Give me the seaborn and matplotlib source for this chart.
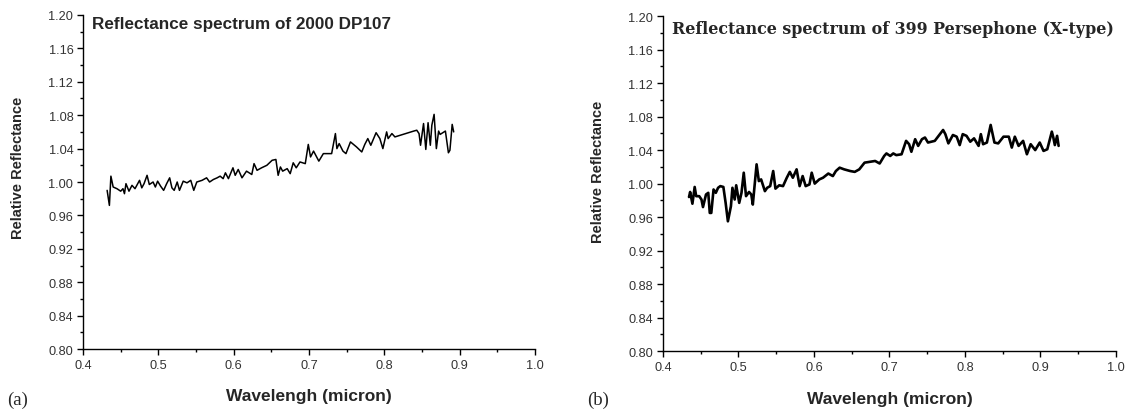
import numpy as np
import pandas as pd
import matplotlib.pyplot as plt
from matplotlib.ticker import MultipleLocator
import seaborn as sns

# 2000 DP107 spectrum
dp107_wl = [0.432, 0.435, 0.437, 0.440, 0.445, 0.450, 0.453, 0.455, 0.457, 0.461,
            0.465, 0.469, 0.475, 0.478, 0.481, 0.485, 0.488, 0.493, 0.496, 0.499,
            0.503, 0.507, 0.511, 0.515, 0.518, 0.521, 0.525, 0.528, 0.533, 0.538,
            0.543, 0.547, 0.551, 0.558, 0.564, 0.568, 0.573, 0.578, 0.582, 0.586,
            0.589, 0.593, 0.599, 0.602, 0.606, 0.611, 0.617, 0.624, 0.627, 0.631,
            0.637, 0.644, 0.651, 0.656, 0.659, 0.662, 0.665, 0.671, 0.675, 0.679,
            0.683, 0.688, 0.695, 0.699, 0.702, 0.706, 0.713, 0.719, 0.730, 0.735,
            0.737, 0.740, 0.745, 0.749, 0.755, 0.763, 0.770, 0.774, 0.778, 0.782,
            0.789, 0.794, 0.798, 0.803, 0.805, 0.810, 0.814, 0.839, 0.843, 0.846,
            0.848, 0.852, 0.855, 0.858, 0.861, 0.863, 0.866, 0.869, 0.872, 0.874,
            0.881, 0.885, 0.887, 0.890, 0.892]
dp107_refl = [0.990, 0.972, 1.007, 0.994, 0.992, 0.989, 0.992, 0.986, 0.998, 0.989,
              0.996, 0.992, 1.002, 0.993, 0.998, 1.008, 0.997, 1.000, 0.994, 1.001,
              0.995, 0.990, 0.998, 1.005, 0.993, 0.990, 1.000, 0.990, 1.001, 0.999,
              1.002, 0.990, 1.000, 1.002, 1.005, 1.000, 1.003, 1.005, 1.007, 1.004,
              1.011, 1.004, 1.017, 1.008, 1.015, 1.005, 1.013, 1.009, 1.022, 1.014,
              1.017, 1.020, 1.026, 1.027, 1.008, 1.018, 1.013, 1.016, 1.010, 1.023,
              1.017, 1.024, 1.022, 1.045, 1.030, 1.037, 1.025, 1.034, 1.034, 1.058,
              1.040, 1.046, 1.037, 1.034, 1.048, 1.042, 1.036, 1.045, 1.052, 1.044,
              1.059, 1.052, 1.040, 1.060, 1.052, 1.058, 1.054, 1.061, 1.062, 1.058,
              1.044, 1.070, 1.039, 1.071, 1.044, 1.068, 1.081, 1.040, 1.061, 1.057,
              1.061, 1.035, 1.038, 1.069, 1.060]

# 399 Persephone spectrum
pers_wl = [0.4345, 0.436, 0.439, 0.442, 0.444, 0.448, 0.451, 0.453, 0.457, 0.460,
           0.462, 0.464, 0.467, 0.470, 0.473, 0.476, 0.480, 0.483, 0.486, 0.490,
           0.492, 0.495, 0.497, 0.501, 0.504, 0.507, 0.510, 0.514, 0.517, 0.519,
           0.524, 0.527, 0.530, 0.535, 0.538, 0.542, 0.546, 0.549, 0.554, 0.559,
           0.564, 0.568, 0.572, 0.577, 0.581, 0.585, 0.589, 0.594, 0.597, 0.601,
           0.607, 0.612, 0.619, 0.625, 0.629, 0.634, 0.640, 0.648, 0.654, 0.660,
           0.667, 0.674, 0.681, 0.687, 0.693, 0.696, 0.701, 0.705, 0.709, 0.716,
           0.722, 0.726, 0.729, 0.734, 0.738, 0.743, 0.747, 0.751, 0.760, 0.771,
           0.774, 0.778, 0.784, 0.789, 0.793, 0.797, 0.802, 0.807, 0.812, 0.818,
           0.821, 0.824, 0.829, 0.834, 0.839, 0.844, 0.851, 0.858, 0.862, 0.866,
           0.871, 0.877, 0.882, 0.887, 0.893, 0.899, 0.904, 0.909, 0.915, 0.917,
           0.919, 0.922, 0.924]
pers_refl = [0.984, 0.990, 0.976, 0.996, 0.985, 0.985, 0.981, 0.972, 0.987, 0.989,
             0.965, 0.965, 0.993, 0.989, 0.995, 0.997, 0.996, 0.977, 0.955, 0.973,
             0.995, 0.981, 0.998, 0.977, 0.989, 1.013, 0.985, 0.990, 0.987, 0.975,
             1.023, 1.003, 1.005, 0.991, 0.995, 0.997, 1.015, 0.994, 0.998, 0.997,
             1.007, 1.014, 1.007, 1.017, 0.997, 1.009, 0.997, 0.999, 1.013, 1.000,
             1.005, 1.007, 1.012, 1.009, 1.015, 1.019, 1.017, 1.015, 1.014, 1.017,
             1.025, 1.026, 1.027, 1.024, 1.033, 1.036, 1.033, 1.036, 1.034, 1.035,
             1.051, 1.047, 1.038, 1.053, 1.045, 1.053, 1.055, 1.049, 1.051, 1.064,
             1.059, 1.048, 1.058, 1.056, 1.046, 1.059, 1.057, 1.050, 1.054, 1.045,
             1.059, 1.047, 1.049, 1.070, 1.049, 1.048, 1.056, 1.056, 1.043, 1.056,
             1.045, 1.051, 1.035, 1.047, 1.040, 1.049, 1.039, 1.041, 1.062, 1.055,
             1.046, 1.057, 1.045]

sns.set_style("ticks")
plt.rcParams['font.family'] = ['Liberation Sans', 'DejaVu Sans']


def style_axes(ax, ylab_y):
    ax.set_xlim(0.4, 1.0)
    ax.set_ylim(0.80, 1.20)
    ax.xaxis.set_major_locator(MultipleLocator(0.1))
    ax.xaxis.set_minor_locator(MultipleLocator(0.05))
    ax.yaxis.set_major_locator(MultipleLocator(0.04))
    ax.yaxis.set_minor_locator(MultipleLocator(0.02))
    ax.xaxis.set_major_formatter(plt.FuncFormatter(lambda v, p: f"{v:.1f}"))
    ax.yaxis.set_major_formatter(plt.FuncFormatter(lambda v, p: f"{v:.2f}"))
    ax.tick_params(which='major', length=4.5, width=1, labelsize=9.2, color='black',
                   labelcolor='#333333', pad=2.5)
    ax.tick_params(which='minor', length=2.5, width=1, color='black')
    for s in ['top', 'right']:
        ax.spines[s].set_visible(False)
    for s in ['left', 'bottom']:
        ax.spines[s].set_color('black')
        ax.spines[s].set_linewidth(1)
    ax.set_xlabel("Wavelengh (micron)", fontsize=12.5, fontweight='bold', va='center')
    ax.set_ylabel("Relative Reflectance", fontsize=10.5, fontweight='bold', va='center')
    ax.xaxis.set_label_coords(0.5, -0.14)
    ax.yaxis.set_label_coords(-0.144, ylab_y)


fig = plt.figure(figsize=(11.25, 4.1), dpi=100)
ax1 = fig.add_axes([0.0738, 0.1463, 0.4018, 0.8147])
ax2 = fig.add_axes([0.5893, 0.141, 0.4027, 0.8175])

df1 = pd.DataFrame({"wl": dp107_wl, "refl": dp107_refl})
df2 = pd.DataFrame({"wl": pers_wl, "refl": pers_refl})

sns.lineplot(data=df1, x="wl", y="refl", ax=ax1, color='black', linewidth=1.1, sort=False)
sns.lineplot(data=df2, x="wl", y="refl", ax=ax2, color='black', linewidth=1.9, sort=False)

style_axes(ax1, 0.545)
style_axes(ax2, 0.537)

ax1.text(0.02, 0.997, "Reflectance spectrum of 2000 DP107", transform=ax1.transAxes,
         fontsize=12.3, fontweight='bold', va='top', ha='left')
ax2.text(0.02, 0.987, "Reflectance spectrum of 399 Persephone (X-type)", transform=ax2.transAxes,
         fontsize=11.4, fontweight='bold', va='top', ha='left', family='DejaVu Serif')

fig.text(0.006, 0.024, "(a)", fontsize=13.5, family='Liberation Serif', va='center')
fig.text(0.522, 0.024, "(b)", fontsize=13.5, family='Liberation Serif', va='center')

fig.savefig("out.png", dpi=100)
